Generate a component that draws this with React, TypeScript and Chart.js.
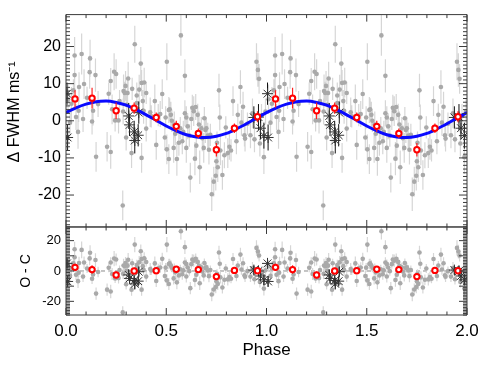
import { useEffect, useRef } from 'react';
import { Chart, registerables } from 'chart.js';

Chart.register(...registerables);

const FONT = "'Liberation Sans', Arial, Helvetica, sans-serif";

// ---- one phase cycle of the individual measurements (grey) ----
const obsPhase = [
  0.010, 0.020, 0.027, 0.037, 0.043, 0.043, 0.050, 0.060, 0.063, 0.065,
  0.078, 0.085, 0.090, 0.105, 0.118, 0.120, 0.130, 0.135, 0.147, 0.150,
  0.160, 0.205, 0.213, 0.223, 0.223, 0.230, 0.240, 0.245, 0.250, 0.262,
  0.267, 0.283, 0.285, 0.287, 0.293, 0.297, 0.300, 0.303, 0.307, 0.310,
  0.327, 0.330, 0.343, 0.353, 0.353, 0.365, 0.373, 0.377, 0.377, 0.383,
  0.387, 0.390, 0.400, 0.400, 0.420, 0.425, 0.443, 0.450, 0.460, 0.470,
  0.480, 0.493, 0.497, 0.503, 0.503, 0.513, 0.513, 0.517, 0.523, 0.528,
  0.537, 0.540, 0.545, 0.553, 0.563, 0.570, 0.573, 0.580, 0.585, 0.593,
  0.593, 0.600, 0.600, 0.607, 0.615, 0.620, 0.625, 0.630, 0.637, 0.643,
  0.647, 0.650, 0.657, 0.663, 0.667, 0.675, 0.680, 0.687, 0.690, 0.695,
  0.700, 0.707, 0.713, 0.720, 0.727, 0.737, 0.747, 0.750, 0.753, 0.757,
  0.763, 0.767, 0.770, 0.780, 0.790, 0.797, 0.807, 0.815, 0.823, 0.833,
  0.850, 0.857, 0.870, 0.875, 0.883, 0.890, 0.893, 0.905, 0.920, 0.930,
  0.940, 0.950, 0.957, 0.963, 0.967, 0.975, 0.987, 0.995,
];
const obsValue = [
  5.8, -0.5, 4.6, 8.2, 17.6, 12.3, 1.0, -3.0, 2.7, 9.1,
  18.0, 0.5, 9.9, 6.2, 13.1, 16.8, -0.2, 2.7, 12.3, -9.7,
  4.5, -7.0, 7.3, -8.4, 10.7, 3.1, 13.2, 0.1, 12.6, 0.1,
  5.3, -22.8, 2.5, 8.0, 7.5, 9.4, -4.5, 4.3, 7.5, 11.4,
  -8.7, 8.6, 20.6, 6.8, 4.8, 8.4, 15.4, 10.2, -10.0, 5.3,
  2.7, 10.3, 7.5, -2.1, 2.3, 1.2, 5.3, -6.5, 1.5, 1.8,
  7.2, -4.5, 0.9, 15.9, -7.7, 2.9, -10.3, 3.1, 1.6, 0.0,
  -7.3, -1.0, -3.5, -10.3, -5.9, -2.0, 23.0, -5.5, -3.0, 12.1,
  2.0, 0.9, -7.3, -1.5, -4.0, -15.3, 0.5, 3.5, 2.6, -10.2,
  3.7, -6.7, 1.6, -1.0, -12.5, -2.0, -4.7, -7.3, 0.7, -2.5,
  -2.0, -4.0, -7.8, -3.8, -19.8, -16.4, -14.8, -10.9, -5.9, -12.5,
  8.2, 0.9, -8.0, -14.6, -9.3, -1.8, -8.7, -7.0, -8.0, 5.3,
  -5.5, 1.6, 9.1, -0.5, 3.8, -3.9, -4.8, -0.8, -3.9, 2.0,
  -5.0, 15.9, 13.7, 11.3, -6.1, 1.5, -9.8, 2.5,
];
const obsResid = [
  3.3, -3.2, 1.7, 5.0, 14.3, 9.0, -2.5, -6.7, -1.1, 5.3,
  13.9, -3.7, 5.6, 1.6, 8.3, 12.0, -5.1, -2.3, 7.2, -14.9,
  -0.7, -12.3, 2.1, -13.5, 5.6, -2.0, 8.2, -4.9, 7.6, -4.7,
  0.6, -27.3, -1.9, 3.6, 3.2, 5.2, -8.7, 0.2, 3.5, 7.4,
  -12.3, 5.1, 17.4, 3.9, 1.9, 5.8, 13.0, 7.9, -12.3, 3.2,
  0.7, 8.4, 5.9, -3.7, 1.3, 0.3, 5.0, -6.6, 1.7, 2.3,
  8.0, -3.3, 2.2, 17.4, -6.2, 4.6, -8.6, 5.0, 3.6, 2.1,
  -4.9, 1.5, -0.9, -7.5, -2.9, 1.1, 26.2, -2.2, 0.4, 15.7,
  5.6, 4.6, -3.6, 2.3, -0.1, -11.3, 4.5, 7.6, 6.8, -5.9,
  8.0, -2.4, 6.0, 3.4, -8.1, 2.4, -0.3, -2.9, 5.2, 2.0,
  2.5, 0.4, -3.4, 0.6, -15.5, -12.2, -10.6, -6.7, -1.8, -8.5,
  12.2, 4.8, -4.2, -10.9, -5.8, 1.6, -5.5, -4.0, -5.1, 7.9,
  -3.3, 3.6, 10.8, 1.0, 5.1, -2.8, -3.8, -0.1, -3.7, 1.9,
  -5.4, 15.2, 12.8, 10.2, -7.3, 0.0, -11.6, 0.5,
];
const obsErr = [
  4.0, 3.5, 4.5, 3.0, 5.0, 4.0, 3.5, 4.5, 3.0, 4.0,
  5.5, 3.5, 4.0, 3.0, 4.5, 5.0, 3.5, 4.0, 4.5, 4.0,
  3.5, 4.0, 3.0, 4.5, 3.5, 4.0, 5.0, 3.0, 4.0, 3.5,
  3.0, 4.0, 3.5, 4.5, 3.0, 4.0, 3.5, 4.0, 3.5, 4.5,
  4.0, 3.0, 5.0, 3.5, 3.0, 4.0, 4.5, 3.5, 4.0, 3.0,
  3.5, 4.0, 3.0, 3.5, 4.0, 3.0, 4.5, 4.0, 3.0, 3.5,
  4.0, 3.5, 3.0, 5.0, 4.0, 3.5, 4.0, 3.0, 3.5, 3.0,
  4.0, 3.5, 3.0, 4.5, 3.5, 3.0, 5.5, 3.5, 3.0, 4.5,
  3.5, 3.0, 4.0, 3.5, 3.0, 4.0, 3.0, 3.5, 4.0, 4.5,
  3.5, 4.0, 3.0, 3.5, 4.5, 3.0, 3.5, 4.0, 3.0, 3.5,
  3.0, 3.5, 4.0, 3.0, 4.5, 4.0, 4.0, 3.5, 3.0, 4.0,
  4.5, 3.5, 4.0, 4.0, 3.5, 3.0, 4.0, 3.5, 3.0, 4.0,
  3.5, 3.0, 4.5, 3.5, 4.0, 3.0, 3.5, 3.0, 3.5, 4.0,
  3.5, 5.0, 4.5, 4.0, 3.5, 3.0, 4.5, 3.5,
];

// ---- black asterisks ----
const astPhase = [0.005, 0.008, 0.313, 0.317, 0.340, 0.343, 0.360, 0.363, 0.937, 0.960, 0.970, 0.987];
const astValue = [7.3, -4.5, 1.3, -1.1, -3.0, -5.3, -3.9, 2.2, 0.9, 1.0, -2.0, -4.0];
const astResid = [5.0, -6.9, -2.6, -4.9, -6.3, -8.5, -6.7, -0.5, 0.6, 0.0, -3.3, -5.8];
const astErr = [3.0, 3.5, 3.5, 3.0, 3.0, 3.5, 3.0, 3.0, 3.0, 3.5, 3.0, 3.5];

// ---- binned means (red circles) ----
const binPhase = [0.045, 0.13, 0.25, 0.34, 0.45, 0.55, 0.66, 0.75, 0.84, 0.955];
const binValue = [5.9, 6.1, 2.7, 3.4, 0.9, -1.5, -3.4, -7.8, -2.0, 1.1];
const binResid = [2.4, 0.9, -2.6, 0.0, 0.2, 1.1, 0.9, -3.7, 0.4, 0.2];
const binErr = [2.3, 2.8, 2.2, 1.5, 1.3, 1.5, 1.3, 1.8, 1.3, 1.5];

// ---- fitted curve (blue), one cycle ----
const fitPhase = [0, 0.05, 0.1, 0.15, 0.2, 0.25, 0.3, 0.35, 0.4, 0.45, 0.5, 0.55, 0.6, 0.65, 0.7, 0.75, 0.8, 0.85, 0.9, 0.95, 1.0];
const fitValue = [2.2, 3.5, 4.5, 5.15, 5.3, 4.95, 4.2, 3.0, 1.6, 0.1, -1.4, -2.7, -3.75, -4.35, -4.5, -4.15, -3.4, -2.2, -0.8, 0.7, 2.2];

// ---- axes ----
const xTickValues = [0, 0.5, 1.0, 1.5, 2.0];
const xTickLabels = ['0.0', '0.5', '1.0', '1.5', '2.0'];
const yTopTicks = [-20, -10, 0, 10, 20];
const yResTicks = [-20, -10, 0, 10, 20];
const zeroLine = [0, 0];

// the phase-folded data is shown twice (phase and phase + 1)
const twice = (a: number[]) => [...a, ...a];
const twicePhase = (a: number[]) => [...a, ...a.map((p) => p + 1)];
const pts = (xs: number[], ys: number[]) => xs.map((x, i) => ({ x, y: ys[i] }));

const errorBarPlugin = {
  id: 'errorBars',
  beforeDatasetDraw(chart: any, args: any) {
    const ds: any = chart.data.datasets[args.index];
    if (!ds.errs) return;
    const meta = args.meta;
    const xs = chart.scales[meta.xAxisID];
    const ys = chart.scales[meta.yAxisID];
    const { ctx, chartArea } = chart;
    ctx.save();
    ctx.beginPath();
    ctx.rect(chartArea.left, ys.top, chartArea.right - chartArea.left, ys.bottom - ys.top);
    ctx.clip();
    ctx.strokeStyle = ds.errColor;
    ctx.lineWidth = ds.errWidth;
    ctx.beginPath();
    ds.data.forEach((p: any, i: number) => {
      const e = ds.errs[i];
      const x = xs.getPixelForValue(p.x);
      ctx.moveTo(x, ys.getPixelForValue(p.y - e));
      ctx.lineTo(x, ys.getPixelForValue(p.y + e));
    });
    ctx.stroke();
    ctx.restore();
  },
};

const framePlugin = {
  id: 'frame',
  afterDatasetsDraw(chart: any) {
    const { ctx, chartArea } = chart;
    const { left, right } = chartArea;
    const x = chart.scales.x;
    ctx.save();
    ctx.strokeStyle = '#3a3a3a';
    ctx.lineWidth = 1;
    for (const id of ['yTop', 'yRes']) {
      const s = chart.scales[id];
      const top = s.top;
      const bottom = s.bottom;
      ctx.beginPath();
      ctx.rect(left, top, right - left, bottom - top);
      // x ticks (inside, top and bottom)
      for (let k = 0; k <= 20; k++) {
        const px = x.getPixelForValue(k / 10);
        const len = k % 5 === 0 ? 7 : 3.5;
        ctx.moveTo(px, bottom);
        ctx.lineTo(px, bottom - len);
        ctx.moveTo(px, top);
        ctx.lineTo(px, top + len);
      }
      // y ticks (inside, left and right)
      for (let v = Math.ceil(s.min); v <= Math.floor(s.max); v++) {
        const py = s.getPixelForValue(v);
        const len = v % 10 === 0 ? 8 : 4;
        ctx.moveTo(left, py);
        ctx.lineTo(left + len, py);
        ctx.moveTo(right, py);
        ctx.lineTo(right - len, py);
      }
      ctx.stroke();
    }
    ctx.restore();
  },
};

export default function App() {
  const ref = useRef<HTMLCanvasElement>(null);

  useEffect(() => {
    const gray = '#a9a9a9';
    const grayErr = '#d6d6d6';
    const datasets: any[] = [
      {
        type: 'scatter', label: 'bins', xAxisID: 'x', yAxisID: 'yTop', order: 0,
        data: pts(twicePhase(binPhase), twice(binValue)), errs: twice(binErr),
        errColor: '#ff2020', errWidth: 1.2,
        pointStyle: 'circle', pointRadius: 2.7, borderWidth: 2,
        borderColor: '#ff0000', backgroundColor: '#ffffff',
      },
      {
        type: 'scatter', label: 'bins O-C', xAxisID: 'x', yAxisID: 'yRes', order: 0,
        data: pts(twicePhase(binPhase), twice(binResid)), errs: twice(binErr),
        errColor: '#ff2020', errWidth: 1.2,
        pointStyle: 'circle', pointRadius: 2.7, borderWidth: 2,
        borderColor: '#ff0000', backgroundColor: '#ffffff',
      },
      {
        type: 'line', label: 'fit', xAxisID: 'x', yAxisID: 'yTop', order: 1,
        data: pts(
          [...fitPhase, ...fitPhase.slice(1).map((p) => p + 1)],
          [...fitValue, ...fitValue.slice(1)]
        ),
        borderColor: '#0a0aff', borderWidth: 3, pointRadius: 0,
        cubicInterpolationMode: 'monotone', fill: false,
      },
      {
        type: 'line', label: 'zero', xAxisID: 'x', yAxisID: 'yRes', order: 6,
        data: pts([0, 2], zeroLine),
        borderColor: '#8a8a8a', borderWidth: 1, borderDash: [4, 3], pointRadius: 0,
      },
      {
        type: 'scatter', label: 'ast', xAxisID: 'x', yAxisID: 'yTop', order: 2,
        data: pts(twicePhase(astPhase), twice(astValue)), errs: twice(astErr),
        errColor: '#111111', errWidth: 1,
        pointStyle: 'star', pointRadius: 5.5, borderWidth: 1,
        borderColor: '#333333', backgroundColor: '#333333',
      },
      {
        type: 'scatter', label: 'ast O-C', xAxisID: 'x', yAxisID: 'yRes', order: 2,
        data: pts(twicePhase(astPhase), twice(astResid)), errs: twice(astErr),
        errColor: '#111111', errWidth: 1,
        pointStyle: 'star', pointRadius: 5.5, borderWidth: 1,
        borderColor: '#333333', backgroundColor: '#333333',
      },
      {
        type: 'scatter', label: 'obs', xAxisID: 'x', yAxisID: 'yTop', order: 3,
        data: pts(twicePhase(obsPhase), twice(obsValue)), errs: twice(obsErr),
        errColor: grayErr, errWidth: 1.2,
        pointStyle: 'circle', pointRadius: 2.3, borderWidth: 0,
        backgroundColor: gray, borderColor: gray,
      },
      {
        type: 'scatter', label: 'obs O-C', xAxisID: 'x', yAxisID: 'yRes', order: 3,
        data: pts(twicePhase(obsPhase), twice(obsResid)), errs: twice(obsErr),
        errColor: grayErr, errWidth: 1.2,
        pointStyle: 'circle', pointRadius: 2.3, borderWidth: 0,
        backgroundColor: gray, borderColor: gray,
      },
    ];

    const chart = new Chart(ref.current as HTMLCanvasElement, {
      type: 'scatter',
      data: { datasets },
      options: {
        animation: false,
        responsive: true,
        maintainAspectRatio: false,
        layout: { padding: { left: 0, right: 23, top: 13, bottom: 0 } },
        plugins: { legend: { display: false }, tooltip: { enabled: false } },
        scales: {
          x: {
            type: 'linear', position: 'bottom', min: 0, max: 2,
            grid: { display: false, drawTicks: false },
            border: { display: false },
            afterBuildTicks: (s: any) => { s.ticks = xTickValues.map((v) => ({ value: v })); },
            afterFit: (s: any) => { s.height = 51; },
            ticks: {
              autoSkip: false, maxRotation: 0, padding: 6, color: '#000',
              font: { family: FONT, size: 17 },
              callback: (v: any) => xTickLabels[xTickValues.indexOf(Number(v))] ?? '',
            },
            title: {
              display: true, text: 'Phase', color: '#000',
              font: { family: FONT, size: 17 }, padding: { top: 0, bottom: 5 },
            },
          },
          yRes: {
            type: 'linear', position: 'left', stack: 'panels', stackWeight: 88.5,
            min: -29, max: 29,
            grid: { display: false, drawTicks: false },
            border: { display: false },
            afterBuildTicks: (s: any) => { s.ticks = yResTicks.map((v) => ({ value: v })); },
            afterFit: (s: any) => { s.width = 66; },
            ticks: { padding: 5, color: '#000', font: { family: FONT, size: 13 } },
            title: {
              display: true, text: 'O - C', color: '#000',
              font: { family: FONT, size: 14 }, padding: { top: 18, bottom: 0 },
            },
          },
          yTop: {
            type: 'linear', position: 'left', stack: 'panels', stackWeight: 213.5,
            min: -28.6, max: 28.6,
            grid: { display: false, drawTicks: false },
            border: { display: false },
            afterBuildTicks: (s: any) => { s.ticks = yTopTicks.map((v) => ({ value: v })); },
            afterFit: (s: any) => { s.width = 66; },
            ticks: { padding: 5, color: '#000', font: { family: FONT, size: 16 } },
            title: {
              display: true, text: '    \u0394 FWHM ms\u207B\u00B9', color: '#000',
              font: { family: FONT, size: 16 }, padding: { top: 5, bottom: 0 },
            },
          },
        },
      } as any,
      plugins: [errorBarPlugin, framePlugin],
    });
    return () => chart.destroy();
  }, []);

  return (
    <div style={{ position: 'fixed', left: 0, top: 0, width: 490, height: 366, background: '#ffffff' }}>
      <canvas ref={ref} />
    </div>
  );
}
